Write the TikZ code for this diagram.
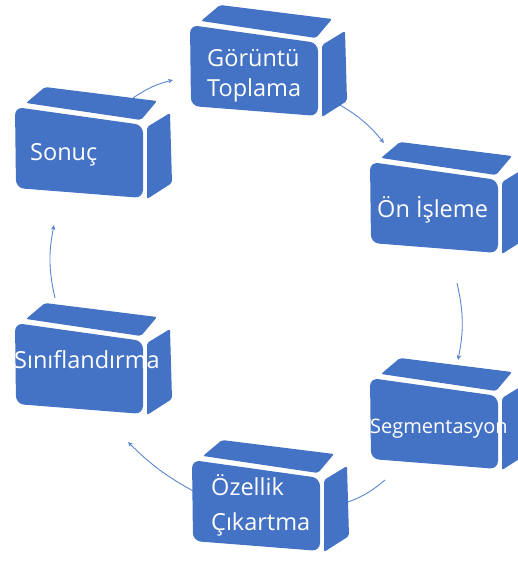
\documentclass[tikz,border=0pt]{standalone}
\usepackage{fontspec}
\setmainfont{Open Sans}
\usetikzlibrary{arrows.meta}
\definecolor{boxblue}{HTML}{4472C4}
\definecolor{arrblue}{HTML}{5B87CC}
\newcommand{\cubeshape}[2]{%
 \begin{scope}[shift={(#1,#2)}]
  \fill[boxblue, rounded corners=2pt] (11,-4) -- (30,-20) -- (142,-6) -- (126,13) -- cycle;
  \fill[boxblue, rounded corners=2pt] (132,20) -- (155,6) -- (157,76) -- (132,92) -- cycle;
  \fill[boxblue, rounded corners=8pt] (0,0) -- (128,18) -- (128,91) -- (1,81) -- cycle;
 \end{scope}}
\tikzset{
  lbl/.style={text=white, font=\fontsize{23.5}{30}\selectfont, inner sep=0pt},
  arr/.style={draw=arrblue, line width=0.9pt, -{Stealth[length=5pt,width=4.5pt]}}
}
\begin{document}
\begin{tikzpicture}[x=1pt,y=-1pt]
\useasboundingbox (0,0) rectangle (518,562);
\clip (0,0) rectangle (518,562);
% connector end points
\coordinate (a1s) at (133,98);  \coordinate (a1e) at (173,80);
\coordinate (a2s) at (340,105); \coordinate (a2e) at (384,143);
\coordinate (a3s) at (457,283); \coordinate (a3e) at (458,360);
\coordinate (a4s) at (385,480); \coordinate (a4e) at (338,505);
\coordinate (a5s) at (195,492); \coordinate (a5e) at (128,442);
\coordinate (a6s) at (55,298);  \coordinate (a6e) at (54,225);
\draw[arr] (a1s) to[bend left=10] (a1e);
\draw[arr] (a2s) to[bend left=10] (a2e);
\draw[arr] (a3s) to[bend left=12] (a3e);
\draw[arr] (a4s) to[bend left=12] (a4e);
\draw[arr] (a5s) to[bend left=8] (a5e);
\draw[arr] (a6s) to[bend left=12] (a6e);
% boxes
\cubeshape{190}{25}
\cubeshape{370}{162}
\cubeshape{370}{378}
\cubeshape{192}{460}
\cubeshape{15}{323}
\cubeshape{15}{107}
% labels
\node[lbl, anchor=base west, align=left] (goruntu) at (207,96) {Görüntü\\Toplama};
\node[lbl, anchor=base west] (on) at (377,217) {Ön İşleme};
\node[lbl, anchor=base west, font=\fontsize{20}{22}\selectfont] (seg) at (370,433) {Segmentasyon};
\node[lbl, anchor=base west, align=left, font=\fontsize{23.5}{35}\selectfont] (ozellik) at (211,530) {Özellik\\Çıkartma};
\node[lbl, anchor=base west] (sinif) at (14,368) {Sınıflandırma};
\node[lbl, anchor=base west] (sonuc) at (30,160) {Sonuç};
\end{tikzpicture}
\end{document}
